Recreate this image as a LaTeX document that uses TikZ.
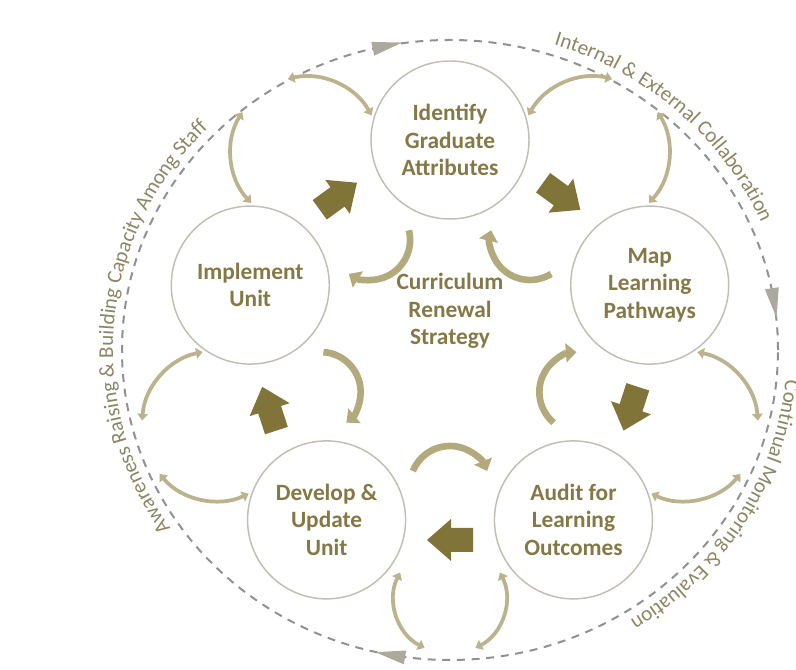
\documentclass[tikz,border=0pt]{standalone}
\usepackage{fontspec}
\setmainfont{Carlito}
\usetikzlibrary{calc,arrows.meta,decorations.text}
\definecolor{maintext}{RGB}{132,121,70}
\definecolor{arrowcol}{RGB}{128,116,56}
\definecolor{innercol}{RGB}{178,170,125}
\definecolor{outercol}{RGB}{186,179,142}
\definecolor{ringgray}{RGB}{145,145,145}
\definecolor{ringtext}{RGB}{140,134,100}
\definecolor{circline}{RGB}{195,190,180}
\definecolor{tricol}{RGB}{172,170,158}
\newcommand{\ringfont}{\fontsize{15.8}{18}\selectfont}
\begin{document}
\begin{tikzpicture}[x=0.75pt,y=0.75pt,
  maincirc/.style={circle, draw=circline, line width=1.1pt, fill=white,
    minimum size=118.5pt, inner sep=0pt, align=center, text=maintext,
    font=\bfseries\fontsize{17.5}{20.5}\selectfont},
  centertext/.style={align=center, text=maintext,
    font=\bfseries\fontsize{17.5}{20.5}\selectfont},
  ring/.style={draw=ringgray, line width=1.5pt, dash pattern=on 6pt off 5pt},
  innerarc/.style={draw=innercol, line width=5pt, -{Triangle[length=8pt,width=14pt]}},
  outerarc/.style={draw=outercol, line width=2.8pt,
    {Triangle[length=5pt,width=8pt]}-{Triangle[length=5pt,width=8pt]}},
  ringlabel/.style={decorate, decoration={text along path, text align=center,
    text color=ringtext}},
  bigarrow/.pic={\fill[arrowcol] (-23,-12) -- (-1,-12) -- (-1,-21) -- (23,0)
    -- (-1,21) -- (-1,12) -- (-23,12) -- cycle;}
]
\useasboundingbox (0,0) rectangle (796,670);
\coordinate (C) at (450,320);

% outer dashed ring
\draw[ring] (C) ellipse [x radius=328, y radius=310];

% ring triangles
\begin{scope}[shift={($(C)+(101:328 and 310)$)}, rotate=12]
  \fill[tricol] (15,0) -- (-15,7) -- (-15,-7) -- cycle;
\end{scope}
\begin{scope}[shift={($(C)+(8.7:328 and 310)$)}, rotate=-80.8]
  \fill[tricol] (15,0) -- (-15,7) -- (-15,-7) -- cycle;
\end{scope}
\begin{scope}[shift={($(C)+(-100.5:328 and 310)$)}, rotate=170]
  \fill[tricol] (15,0) -- (-15,7) -- (-15,-7) -- cycle;
\end{scope}

% ring labels
\path[ringlabel, decoration={text={|\ringfont|Internal {\&} External Collaboration}}]
  ($(C)+(100:339 and 321)$) arc [start angle=100, end angle=-6, x radius=339, y radius=321];
\path[ringlabel, decoration={text={|\ringfont|Continual Monitoring {\&} Evaluation}}]
  ($(C)+(20:337 and 320)$) arc [start angle=20, end angle=-82, x radius=337, y radius=320];
\path[ringlabel, decoration={text={|\ringfont|Awareness Raising {\&} Building Capacity Among Staff}}]
  ($(C)+(238:337 and 319)$) arc [start angle=238, end angle=112, x radius=337, y radius=319];

% outer curved arrows
\foreach \p/\d/\r/\u/\v in {126/245/75/97/22, 54/245/75/97/22, -18/245/75/97/22,
                             -90/248/56/117/27, -162/245/75/97/22} {
  \pgfmathsetmacro\sa{\p+\u}
  \pgfmathsetmacro\ea{\p+\v}
  \pgfmathsetmacro\sb{\p-\v}
  \pgfmathsetmacro\eb{\p-\u}
  \draw[outerarc] ($(C)+(\p:\d)+(\sa:\r)$) arc [start angle=\sa, end angle=\ea, radius=\r];
  \draw[outerarc] ($(C)+(\p:\d)+(\sb:\r)$) arc [start angle=\sb, end angle=\eb, radius=\r];
}

% inner curved arrows
\foreach \p in {126,54,-18,-90,-162} {
  \pgfmathsetmacro\sa{\p+248}
  \pgfmathsetmacro\ea{\p+112}
  \draw[innerarc] ($(C)+(\p:136)+(\sa:40)$) arc [start angle=\sa, end angle=\ea, radius=40];
}

% main circles
\node[maincirc] (ident) at ($(C)+(90:210)$) {Identify\\Graduate\\Attributes};
\node[maincirc] (map) at ($(C)+(18:210)$) {Map\\Learning\\Pathways};
\node[maincirc] (audit) at ($(C)+(-54:210)$) {Audit for\\Learning\\Outcomes};
\node[maincirc] (develop) at ($(C)+(-126:210)$) {Develop \&\\Update\\Unit};
\node[maincirc] (implement) at ($(C)+(162:210)$) {Implement\\Unit};
\node[centertext] (crs) at (450,359) {Curriculum\\Renewal\\Strategy};

% big block arrows
\foreach \p in {126,54,-18,-90,-162} {
  \pgfmathsetmacro\rot{\p-90}
  \pic[rotate=\rot] at ($(C)+(\p:190)$) {bigarrow};
}
\end{tikzpicture}
\end{document}
